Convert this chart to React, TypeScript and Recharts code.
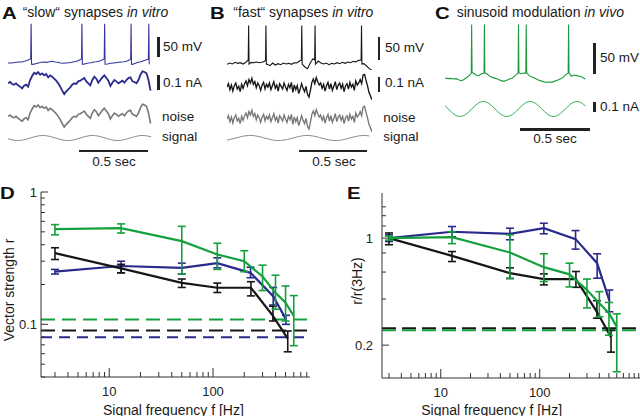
import { LineChart, Line, XAxis, YAxis, ErrorBar, ReferenceLine } from 'recharts';

const FONT = 'Arial, "Liberation Sans", Helvetica, sans-serif';
const GREEN = '#14a03c';
const NAVY = '#2a2a8c';
const BLACK = '#161616';
const GRAY = '#777777';

// ---------- A: "slow" synapses (time in ms, Vm in mV) ----------
const aVmStep = 20;
const aVm = [
  -65, -65, -64.2, -63.3, -62.5, -62.5, -60.8, -58.3, -55, -68.3, -66.7, -65, -63.3, -62.5, -63.3, -61.7,
  -60.8, -62.5, -63.3, -65, -65.8, -65, -64.2, -63.3, -61.7, -60, -56.7, -68.3, -66.7, -65, -64.2, -62.5,
  -61.7, -60, -57.5, -68.3, -67.5, -65.8, -65, -64.2, -63.3, -62.5, -61.7, -60, -56.7, -68.3, -65.8, -63.3,
  -61.7, -59.2, -56.7, -62.5,
];
const aSpikes = [167, 534, 698, 889, 1017];
const aNoiseStep = 14.5;
const aNoise = [
  40, 44, 38, 36, 40, 34, 30, 25, 33, 36, 30, 50, 62, 72, 68, 74, 66, 70, 64, 68, 58, 64, 60, 54, 48, 40, 30, 18, 8, 16,
  22, 28, 36, 40, 38, 46, 48, 52, 56, 46, 40, 34, 50, 60, 54, 42, 50, 58, 64, 56, 48, 32, 42, 50, 46, 40, 44, 48, 42, 50,
  56, 58, 46, 44, 40, 50, 66, 76, 74, 70, 50, 18,
];
const aSignalStep = 45;
const aSignal = [
  -0.3, -0.9, -0.95, -0.45, 0.3, 0.9, 0.95, 0.45, -0.3, -0.9, -0.95, -0.45, 0.3, 0.9, 0.95, 0.45,
  -0.3, -0.9, -0.95, -0.45, 0.3, 0.9, 0.95, 0.45,
];

// ---------- B: "fast" synapses ----------
const bVmStep = 20;
const bVm = [
  -66.4, -63.6, -65.7, -62.1, -64.3, -62.9, -65.7, -62.1, -60.7, -62.1, -62.9, -61.4, -62.9, -62.1, -60, -66.4,
  -69.3, -63.6, -67.9, -65, -67.1, -63.6, -65.7, -64.3, -66.4, -62.9, -63.6, -59.3, -68.6, -72.1, -75.7, -63.6,
  -54.3, -61.4, -59.3, -63.6, -65.7, -63.6, -67.1, -64.3, -65.7, -62.9, -65, -62.1, -64.3, -61.4, -62.9, -60,
  -61.4, -57.9, -56.4, -65, -70, -75.7, -79.3,
];
const bSpikes = [161, 290, 557, 656, 1002];
const bNoiseStep = 10.9;
const bNoise = [
  0, 10, -8, 6, -12, 4, 12, -6, 2, -14, 8, -4, 10, 18, 4, 22, 12, 26, 8, 16, -2, 12, 4, -10, 6, 14, -6, 8, 0, 12,
  -8, 4, 16, -4, 6, -12, 10, 2, -6, 12, 0, -10, 8, -2, 14, -16, 6, -8, 4, -20, -6, 10, -4, -14, 2, -22, -30, -10, 14, 24,
  10, 28, 16, 6, 12, -4, 8, -12, 4, 14, -6, 10, -10, 2, 16, -8, 6, 12, -4, 8, -14, 4, 10, -6, 14, 0, 8, -10, 18, 6,
  12, 22, 10, 36, 38, 20, 4, -16, -26, -38,
];
const bSignalStep = 53;
const bSignal = [
  -0.85, -0.2, 0.55, 1, 0.85, 0.2, -0.55, -1, -0.85, -0.2, 0.55, 1, 0.85, 0.2, -0.55, -1, -0.85, -0.2, 0.55, 1, 0.85,
];

// ---------- C: sinusoid modulation in vivo ----------
const cVmStep = 20;
const cVm = [
  -65, -66.1, -65.6, -66.7, -66.1, -68.3, -69.4, -66.7, -63.3, -59.4, -56.7, -60, -61.1, -57.8, -55.6, -58.3,
  -62.2, -64.4, -65.6, -67.2, -69.4, -70.6, -68.9, -66.7, -65, -61.1, -56.7, -57.8, -56.7, -55, -61.1, -63.3,
  -65, -67.8, -69.4, -71.1, -72.2, -71.7, -72.2, -70.6, -68.9, -66.7, -64.4, -59.4, -60, -62.2, -60, -61.1,
  -62.2, -63.9, -66.7,
];
const cSpikes = [190, 281, 524, 579, 881];
const cCurrentStep = 41.7;
const cCurrent = [
  0.032, -0.025, -0.068, -0.07, -0.032, 0.025, 0.068, 0.07, 0.032, -0.025, -0.068, -0.07, -0.032, 0.025, 0.068, 0.07,
  0.032, -0.025, -0.068, -0.07, -0.032, 0.025, 0.068, 0.07, 0.032,
];

// ---------- D: vector strength ----------
const dFreqGreen = [3, 13, 50, 110, 200, 300, 400, 500, 600];
const dGreen = [0.525, 0.533, 0.425, 0.337, 0.3, 0.23, 0.173, 0.146, 0.116];
const dGreenLo = [0.475, 0.49, 0.24, 0.26, 0.25, 0.18, 0.13, 0.106, 0.069];
const dGreenHi = [0.567, 0.574, 0.55, 0.41, 0.36, 0.28, 0.235, 0.195, 0.165];
const dFreqBlue = [3, 13, 50, 110, 230, 380, 505];
const dBlue = [0.25, 0.276, 0.267, 0.29, 0.245, 0.163, 0.109];
const dBlueLo = [0.24, 0.245, 0.24, 0.267, 0.225, 0.14, 0.1];
const dBlueHi = [0.26, 0.3, 0.29, 0.318, 0.27, 0.19, 0.117];
const dFreqBlack = [3, 13, 50, 110, 232, 378, 525];
const dBlack = [0.345, 0.265, 0.206, 0.189, 0.189, 0.116, 0.078];
const dBlackLo = [0.309, 0.245, 0.19, 0.174, 0.164, 0.106, 0.062];
const dBlackHi = [0.379, 0.284, 0.22, 0.205, 0.21, 0.137, 0.089];
const dChanceGreen = 0.109;
const dChanceBlack = 0.09;
const dChanceBlue = 0.08;

// ---------- E: normalised to 3 Hz ----------
const eFreqBlue = [3, 13, 50, 110, 230, 380, 505];
const eBlue = [1.0, 1.1, 1.067, 1.16, 0.985, 0.686, 0.39];
const eBlueLo = [0.95, 1.02, 0.975, 1.067, 0.847, 0.547, 0.33];
const eBlueHi = [1.05, 1.19, 1.16, 1.25, 1.12, 0.79, 0.458];
const eFreqGreen = [3, 13, 50, 110, 200, 300, 400, 500, 600];
const eGreen = [1.0, 1.015, 0.805, 0.646, 0.58, 0.458, 0.375, 0.323, 0.264];
const eGreenLo = [0.97, 0.92, 0.547, 0.52, 0.48, 0.35, 0.306, 0.232, 0.134];
const eGreenHi = [1.03, 1.1, 1.05, 0.79, 0.686, 0.54, 0.447, 0.38, 0.32];
const eFreqBlack = [3, 13, 50, 110, 232, 378, 525];
const eBlack = [1.0, 0.766, 0.59, 0.54, 0.54, 0.33, 0.225];
const eBlackLo = [0.905, 0.703, 0.544, 0.495, 0.477, 0.3, 0.18];
const eBlackHi = [1.08, 0.817, 0.64, 0.584, 0.605, 0.39, 0.25];
const eChanceBlack = 0.258;
const eChanceGreen = 0.25;

const dXTicks = [3, 4, 5, 6, 7, 8, 9, 10, 20, 30, 40, 50, 60, 70, 80, 90, 100, 200, 300, 400, 500, 600, 700, 800];
const eXTicks = [...dXTicks, 900, 1000];
const dYTicks = [0.04, 0.05, 0.06, 0.07, 0.08, 0.09, 0.1, 0.2, 0.3, 0.4, 0.5, 0.6, 0.7, 0.8, 0.9, 1];
const eYTicks = [0.2, 0.4, 0.6, 0.8, 1, 1.2, 1.4, 1.6];

// ---------- helpers ----------
type Row = { t: number; v: number };

const series = (vals: number[], step: number): Row[] => vals.map((v, i) => ({ t: i * step, v }));

function withSpikes(base: number[], step: number, spikes: number[], thr: number, peak: number, ahp: number) {
  const rows = series(base, step).filter((r) => spikes.every((s) => Math.abs(r.t - s) > 5));
  spikes.forEach((s) => rows.push({ t: s - 3, v: thr }, { t: s, v: peak }, { t: s + 3, v: ahp }));
  return rows.sort((a, b) => a.t - b.t);
}

const freqRows = (f: number[], r: number[], lo: number[], hi: number[]) =>
  f.map((x, i) => ({ f: x, r: r[i], err: [r[i] - lo[i], hi[i] - r[i]] }));

function Trace(props: {
  rows: Row[];
  left: number;
  top: number;
  width: number;
  height: number;
  xMax: number;
  yDomain: [number, number];
  color: string;
  sw: number;
  smooth?: boolean;
}) {
  const { rows, left, top, width, height, xMax, yDomain, color, sw, smooth } = props;
  return (
    <div style={{ position: 'absolute', left, top }}>
      <LineChart width={width} height={height} data={rows} margin={{ top: 0, right: 0, bottom: 0, left: 0 }}>
        <XAxis dataKey="t" type="number" domain={[0, xMax]} hide />
        <YAxis type="number" domain={yDomain} hide />
        <Line
          dataKey="v"
          type={smooth ? 'natural' : 'linear'}
          stroke={color}
          strokeWidth={sw}
          dot={false}
          isAnimationActive={false}
        />
      </LineChart>
    </div>
  );
}

function Txt(props: { x: number; y: number; size?: number; anchor?: 'start' | 'middle'; children: any }) {
  const { x, y, size = 13.5, anchor = 'start', children } = props;
  return (
    <div
      style={{
        position: 'absolute',
        left: x,
        top: y,
        transform: anchor === 'middle' ? 'translate(-50%, -50%)' : 'translateY(-50%)',
        fontSize: size,
        lineHeight: 1,
        whiteSpace: 'nowrap',
        color: '#1a1a1a',
      }}
    >
      {children}
    </div>
  );
}

function Letter({ x, y, ch }: { x: number; y: number; ch: string }) {
  return (
    <div
      style={{
        position: 'absolute',
        left: x,
        top: y,
        transform: 'translateY(-50%) scaleX(1.2)',
        transformOrigin: 'left center',
        fontSize: 17,
        fontWeight: 700,
        lineHeight: 1,
        color: '#111',
      }}
    >
      {ch}
    </div>
  );
}

function Bar({ x, y, w, h }: { x: number; y: number; w: number; h: number }) {
  return <div style={{ position: 'absolute', left: x, top: y, width: w, height: h, background: '#222' }} />;
}

function yTick(labels: Record<string, string>, gap: number) {
  return (p: any) => {
    const lab = labels[String(p.payload.value)];
    return (
      <g>
        <line x1={p.x} x2={p.x + (lab ? 7 : 4)} y1={p.y} y2={p.y} stroke="#333" />
        {lab && (
          <text x={p.x - gap} y={p.y} dy="0.36em" textAnchor="end" fontSize={13} fill="#222">
            {lab}
          </text>
        )}
      </g>
    );
  };
}

function xTick(labels: Record<string, string>) {
  return (p: any) => {
    const lab = labels[String(p.payload.value)];
    return (
      <g>
        <line x1={p.x} x2={p.x} y1={p.y} y2={p.y - (lab ? 9 : 5)} stroke="#333" />
        {lab && (
          <text x={p.x} y={p.y + 18.5} textAnchor="middle" fontSize={13} fill="#222">
            {lab}
          </text>
        )}
      </g>
    );
  };
}

const decadeLabels = { '10': '10', '100': '100' };

function FreqChart(props: {
  left: number;
  margin: { top: number; right: number; bottom: number; left: number };
  yWidth: number;
  xHeight: number;
  xDomain: [number, number];
  yDomain: [number, number];
  xTicks: number[];
  yTicks: number[];
  yLabels: Record<string, string>;
  yGap: number;
  lines: { rows: any[]; color: string }[];
  refs: { y: number; color: string; dash: string }[];
}) {
  const { left, margin, yWidth, xHeight, xDomain, yDomain, xTicks, yTicks, yLabels, yGap, lines, refs } = props;
  return (
    <div style={{ position: 'absolute', left, top: 185 }}>
      <LineChart width={320} height={231} margin={margin}>
        <XAxis
          dataKey="f"
          type="number"
          scale="log"
          domain={xDomain}
          allowDataOverflow
          ticks={xTicks}
          interval={0}
          height={xHeight}
          tickLine={false}
          tickSize={0}
          tickMargin={0}
          axisLine={{ stroke: '#333' }}
          tick={xTick(decadeLabels)}
        />
        <YAxis
          type="number"
          scale="log"
          domain={yDomain}
          allowDataOverflow
          ticks={yTicks}
          interval={0}
          width={yWidth}
          tickLine={false}
          tickSize={0}
          tickMargin={0}
          axisLine={{ stroke: '#333' }}
          tick={yTick(yLabels, yGap)}
        />
        {refs.map((r, i) => (
          <ReferenceLine key={i} y={r.y} stroke={r.color} strokeWidth={2} strokeDasharray={r.dash} />
        ))}
        {lines.map((l, i) => (
          <Line
            key={i}
            data={l.rows}
            dataKey="r"
            type="linear"
            stroke={l.color}
            strokeWidth={2.2}
            dot={false}
            isAnimationActive={false}
          >
            <ErrorBar dataKey="err" direction="y" width={4} stroke={l.color} strokeWidth={1.6} />
          </Line>
        ))}
      </LineChart>
    </div>
  );
}

export default function App() {
  const aVmRows = withSpikes(aVm, aVmStep, aSpikes, -55, 33, -68);
  const bVmRows = withSpikes(bVm, bVmStep, bSpikes, -57, 17, -66);
  const cVmRows = withSpikes(cVm, cVmStep, cSpikes, -57, 24, -56);
  const aNoiseRows = series(aNoise, aNoiseStep);
  const bNoiseRows = series(bNoise, bNoiseStep);

  return (
    <div
      style={{
        position: 'fixed',
        left: 0,
        top: 0,
        width: 640,
        height: 416,
        background: '#fff',
        overflow: 'hidden',
        fontFamily: FONT,
        color: '#1a1a1a',
      }}
    >
      {/* panel A */}
      <Letter x={2} y={12.8} ch="A" />
      <Txt x={22.7} y={12.3} size={14}>
        {'\u201Cslow\u201C synapses '}
        <i>in vitro</i>
      </Txt>
      <Trace rows={aVmRows} left={8} top={23.3} width={144} height={44} xMax={1040} yDomain={[-75, 35]} color="#34349e" sw={1.1} />
      <Trace rows={aNoiseRows} left={8} top={70} width={144} height={26.7} xMax={1040} yDomain={[0, 80]} color={NAVY} sw={1.8} />
      <Trace rows={aNoiseRows} left={8} top={103.3} width={144} height={26.7} xMax={1040} yDomain={[0, 80]} color={GRAY} sw={1.6} />
      <Trace rows={series(aSignal, aSignalStep)} left={8} top={133.5} width={144} height={8} xMax={1040} yDomain={[-1.6, 1.6]} color="#8c8c8c" sw={1} smooth />
      <Bar x={157} y={37} w={2.5} h={20} />
      <Txt x={163} y={46.7}>50 mV</Txt>
      <Bar x={157} y={75} w={2.5} h={15} />
      <Txt x={163} y={83.3}>0.1 nA</Txt>
      <Txt x={162} y={117}>noise</Txt>
      <Txt x={162} y={136.7}>signal</Txt>
      <Bar x={79} y={149.5} w={69} h={2.5} />
      <Txt x={114} y={161.7} anchor="middle">0.5 sec</Txt>

      {/* panel B */}
      <Letter x={210} y={12.8} ch="B" />
      <Txt x={233.3} y={12.3} size={14}>
        {'\u201Cfast\u201C synapses '}
        <i>in vitro</i>
      </Txt>
      <Trace rows={bVmRows} left={226.7} top={23.6} width={145} height={46.7} xMax={1080} yDomain={[-80, 20]} color={BLACK} sw={1.1} />
      <Trace rows={bNoiseRows} left={226.7} top={72.7} width={145} height={28} xMax={1080} yDomain={[-42, 42]} color={BLACK} sw={1.35} />
      <Trace rows={bNoiseRows} left={226.7} top={105} width={145} height={28} xMax={1080} yDomain={[-42, 42]} color={GRAY} sw={1.35} />
      <Trace rows={series(bSignal, bSignalStep)} left={226.7} top={133.5} width={145} height={8} xMax={1080} yDomain={[-1.6, 1.6]} color="#8c8c8c" sw={1} smooth />
      <Bar x={377.5} y={37} w={2.5} h={23} />
      <Txt x={385} y={48.3}>50 mV</Txt>
      <Bar x={377.5} y={77} w={2.5} h={15} />
      <Txt x={385} y={83.3}>0.1 nA</Txt>
      <Txt x={383.3} y={118.3}>noise</Txt>
      <Txt x={383.3} y={136.7}>signal</Txt>
      <Bar x={299} y={149.5} w={68} h={2.5} />
      <Txt x={334} y={161.7} anchor="middle">0.5 sec</Txt>

      {/* panel C */}
      <Letter x={435} y={12.8} ch="C" />
      <Txt x={456.7} y={12.3} size={14}>
        {'sinusoid modulation '}
        <i>in vivo</i>
      </Txt>
      <Trace rows={cVmRows} left={445} top={21.3} width={141.7} height={66} xMax={1010} yDomain={[-80, 30]} color="#1c9a3e" sw={1.1} />
      <Trace rows={series(cCurrent, cCurrentStep)} left={445} top={99.2} width={141.7} height={20} xMax={1010} yDomain={[-0.1, 0.1]} color="#2bb04c" sw={1} smooth />
      <Bar x={593} y={43} w={2.5} h={31} />
      <Txt x={600} y={58.3}>50 mV</Txt>
      <Bar x={593} y={102} w={2.5} h={10} />
      <Txt x={600} y={106.7}>0.1 nA</Txt>
      <Bar x={520} y={128} w={70} h={2.5} />
      <Txt x={555} y={139.3} anchor="middle">0.5 sec</Txt>

      {/* panel D */}
      <FreqChart
        left={0}
        margin={{ top: 7, right: 10, bottom: 0, left: 0 }}
        yWidth={41}
        xHeight={39}
        xDomain={[2.2, 860]}
        yDomain={[0.04, 1]}
        xTicks={dXTicks}
        yTicks={dYTicks}
        yLabels={{ '0.1': '0.1', '1': '1' }}
        yGap={4}
        refs={[
          { y: dChanceGreen, color: GREEN, dash: '14 7' },
          { y: dChanceBlack, color: BLACK, dash: '14 7' },
          { y: dChanceBlue, color: NAVY, dash: '11 7' },
        ]}
        lines={[
          { rows: freqRows(dFreqBlue, dBlue, dBlueLo, dBlueHi), color: NAVY },
          { rows: freqRows(dFreqBlack, dBlack, dBlackLo, dBlackHi), color: BLACK },
          { rows: freqRows(dFreqGreen, dGreen, dGreenLo, dGreenHi), color: GREEN },
        ]}
      />
      <Letter x={0} y={193.3} ch="D" />
      <div
        style={{
          position: 'absolute',
          left: 9,
          top: 289.5,
          transform: 'translate(-50%, -50%) rotate(-90deg)',
          fontSize: 14,
          lineHeight: 1,
          whiteSpace: 'nowrap',
        }}
      >
        Vector strength r
      </div>
      <Txt x={173.4} y={409.5} size={14} anchor="middle">Signal frequency f [Hz]</Txt>

      {/* panel E */}
      <FreqChart
        left={320}
        margin={{ top: 8, right: 0, bottom: 0, left: 0 }}
        yWidth={62}
        xHeight={38}
        xDomain={[2.55, 1030]}
        yDomain={[0.122, 1.97]}
        xTicks={eXTicks}
        yTicks={eYTicks}
        yLabels={{ '0.2': '0.2', '1': '1' }}
        yGap={9}
        refs={[
          { y: eChanceBlack, color: BLACK, dash: '14 6' },
          { y: eChanceGreen, color: GREEN, dash: '14 6' },
        ]}
        lines={[
          { rows: freqRows(eFreqBlue, eBlue, eBlueLo, eBlueHi), color: NAVY },
          { rows: freqRows(eFreqBlack, eBlack, eBlackLo, eBlackHi), color: BLACK },
          { rows: freqRows(eFreqGreen, eGreen, eGreenLo, eGreenHi), color: GREEN },
        ]}
      />
      <Letter x={347} y={193.3} ch="E" />
      <div
        style={{
          position: 'absolute',
          left: 357,
          top: 281,
          transform: 'translate(-50%, -50%) rotate(-90deg)',
          fontSize: 14,
          lineHeight: 1,
          whiteSpace: 'nowrap',
        }}
      >
        r/r(3Hz)
      </div>
      <Txt x={491.7} y={409.5} size={14} anchor="middle">Signal frequency f [Hz]</Txt>
    </div>
  );
}
